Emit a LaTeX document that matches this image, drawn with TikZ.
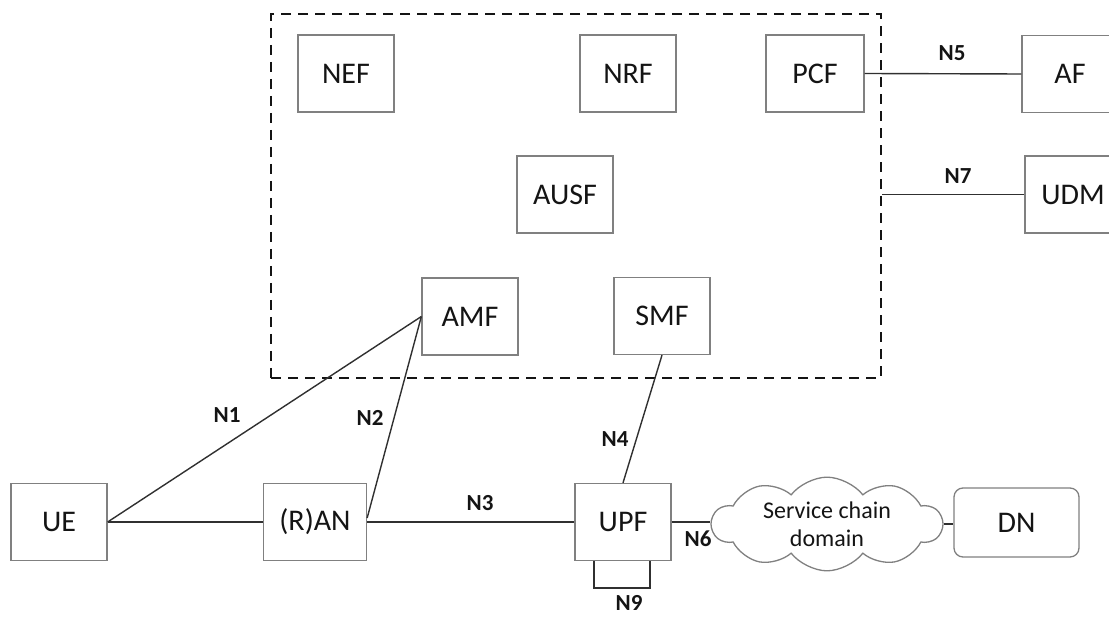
\documentclass[tikz,border=0pt]{standalone}
\usepackage{fontspec}
\setmainfont{Carlito}
\usetikzlibrary{shapes.symbols,calc}
\definecolor{boxgray}{HTML}{808080}
\definecolor{linegray}{HTML}{303030}
\definecolor{inkblack}{HTML}{141414}
\begin{document}
\begin{tikzpicture}[x=1pt,y=-1pt,
  nf/.style={draw=boxgray,line width=1.3pt,minimum width=96pt,minimum height=77pt,
    inner sep=0pt,text=inkblack,font=\fontsize{30}{35}\selectfont},
  link/.style={draw=linegray,line width=1.4pt},
  lbl/.style={text=inkblack,font=\fontsize{23}{27}\selectfont\bfseries,inner sep=0pt},
  corebox/.style={draw=inkblack,line width=2.6pt,dash pattern=on 10pt off 7pt,
    minimum width=610pt,minimum height=364pt,inner sep=0pt}]
\useasboundingbox (0,0) rectangle (1109,617);

% core network domain
\node[corebox] (core) at (576,196) {};

% network functions
\node[nf] (NEF)  at (346,73.5) {NEF};
\node[nf] (NRF)  at (628,73.5) {NRF};
\node[nf,minimum width=98pt] (PCF)  at (815,73.5) {PCF};
\node[nf] (AUSF) at (565,194.5) {AUSF};
\node[nf] (AMF)  at (470,316.5) {AMF};
\node[nf] (SMF)  at (662,316) {SMF};
\node[nf] (AF)   at (1070,74) {AF};
\node[nf] (UDM)  at (1073,194.5) {UDM};
\node[nf] (UE)   at (59,522) {UE};
\node[nf,minimum width=103pt] (RAN) at (315,522) {(R)AN};
\node[nf] (UPF)  at (623,522) {UPF};
\node[draw=boxgray,line width=1.3pt,cloud,cloud puffs=10,cloud puff arc=105,aspect=2.6,
  minimum width=230pt,minimum height=90pt,inner sep=0pt,align=center,
  text=inkblack,font=\fontsize{24}{28}\selectfont] (SC) at (827,524) {Service chain\\domain};
\node[nf,rounded corners=9pt,minimum width=125pt,minimum height=69pt] (DN) at (1016.5,522.5) {DN};

% reference points
\draw[link] (UE.east) -- (RAN.west);
\draw[link] (UE.east) -- (AMF.west);
\draw[link] ($(RAN.east)+(0,-4)$) -- (AMF.west);
\draw[link] (RAN.east) -- (UPF.west);
\draw[link] (SMF.south) -- (UPF.north);
\draw[link] (PCF.east) -- (AF.west);
\draw[link] (core.east |- UDM.west) -- (UDM.west);
\draw[link] (UPF.east) -- (UPF.east -| SC.west);
\draw[link] (SC.east) -- (SC.east -| DN.west);
\draw[link] ($(UPF.south)+(-29,0)$) -- ++(0,27) -| ($(UPF.south)+(27,0)$);

% interface labels
\node[lbl] (lN1) at (227,415) {N1};
\node[lbl] (lN2) at (370,418) {N2};
\node[lbl] (lN3) at (480,503) {N3};
\node[lbl] (lN4) at (615,439) {N4};
\node[lbl] (lN5) at (952,53) {N5};
\node[lbl] (lN7) at (958,176) {N7};
\node[lbl] (lN6) at (698,539) {N6};
\node[lbl] (lN9) at (629,603) {N9};
\end{tikzpicture}
\end{document}
